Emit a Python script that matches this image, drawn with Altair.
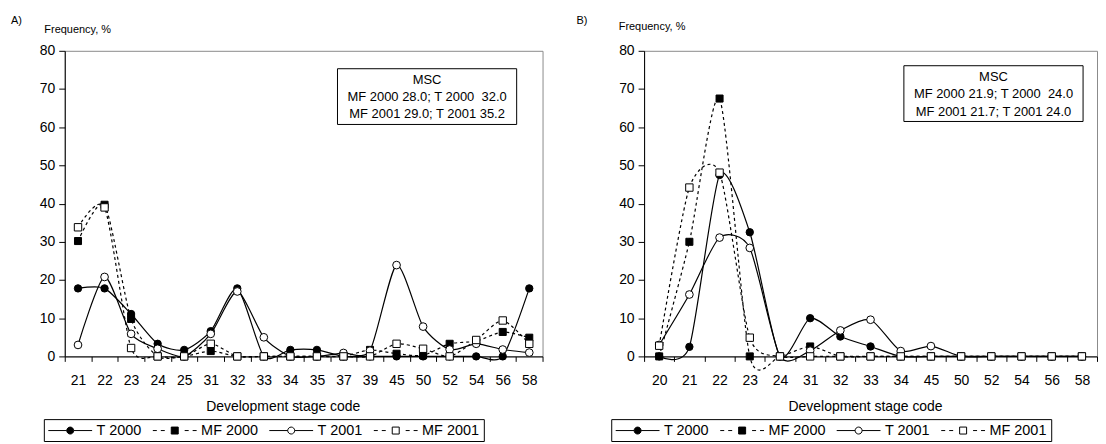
import altair as alt
import pandas as pd

series_names = ["T 2000", "MF 2000", "T 2001", "MF 2001"]

# Panel A
a_codes = ["21", "22", "23", "24", "25", "31", "32", "33", "34", "35", "37", "39", "45", "50", "52", "54", "56", "58"]
a_t2000 = [17.8, 17.8, 11.1, 3.3, 1.7, 6.6, 17.8, 0.0, 1.7, 1.7, 0.0, 0.0, 0.0, 0.0, 0.0, 0.0, 0.0, 17.8]
a_mf2000 = [30.2, 39.7, 9.8, 0.0, 0.0, 1.4, 0.0, 0.0, 0.0, 0.0, 0.0, 1.7, 0.7, 0.3, 3.3, 4.0, 6.4, 4.9]
a_t2001 = [3.0, 20.8, 5.9, 2.0, 0.0, 5.9, 17.0, 5.0, 0.0, 0.0, 0.9, 1.5, 23.9, 7.8, 1.8, 3.3, 1.8, 1.0]
a_mf2001 = [33.8, 39.0, 2.2, 0.0, 0.0, 3.3, 0.0, 0.0, 0.0, 0.0, 0.0, 0.0, 3.3, 2.0, 0.0, 4.3, 9.4, 3.3]
a_box = ["MSC", "MF 2000 28.0; T 2000\u00a0 32.0", "MF 2001 29.0; T 2001 35.2"]

# Panel B
b_codes = ["20", "21", "22", "23", "24", "31", "32", "33", "34", "45", "50", "52", "54", "56", "58"]
b_t2000 = [0.0, 2.5, 47.5, 32.5, 0.0, 10.0, 5.2, 2.6, 0.0, 0.0, 0.0, 0.0, 0.0, 0.0, 0.0]
b_mf2000 = [0.0, 30.0, 67.5, 0.0, 0.0, 2.6, 0.0, 0.0, 0.0, 0.0, 0.0, 0.0, 0.0, 0.0, 0.0]
b_t2001 = [3.0, 16.2, 31.1, 28.4, 0.0, 1.5, 6.8, 9.6, 1.4, 2.7, 0.0, 0.0, 0.0, 0.0, 0.0]
b_mf2001 = [2.8, 44.2, 48.1, 4.9, 0.0, 0.0, 0.0, 0.0, 0.0, 0.0, 0.0, 0.0, 0.0, 0.0, 0.0]
b_box = ["MSC", "MF 2000 21.9; T 2000\u00a0 24.0", "MF 2001 21.7; T 2001 24.0"]

FONT = "Liberation Sans"

# Legend glyphs: symbol unit U px; path spans SYM px starting at the symbol's left edge
U = 7.0
SYM = 44.0
L0, L1 = -1.0, -1.0 + SYM / U
C = (L0 + L1) / 2
m = 3.5 / U


def seg(a, b):
    return f"M{a:.3f},0L{b:.3f},0"


circle_path = (seg(L0, C - m) + seg(C + m, L1)
               + f"M{C - m:.3f},0A{m:.3f},{m:.3f},0,1,1,{C + m:.3f},0A{m:.3f},{m:.3f},0,1,1,{C - m:.3f},0Z")
dash_len, gap_len = 4.0 / U, 4.0 / U
square_dash_path = (
    seg(L0, L0 + dash_len) + seg(L0 + dash_len + gap_len, L0 + 2 * dash_len + gap_len)
    + seg(L1 - 2 * dash_len - gap_len, L1 - dash_len - gap_len) + seg(L1 - dash_len, L1)
    + f"M{C - m:.3f},{-m:.3f}L{C + m:.3f},{-m:.3f}L{C + m:.3f},{m:.3f}L{C - m:.3f},{m:.3f}Z"
)
legend_paths = [circle_path, square_dash_path, circle_path, square_dash_path]
legend_fills = ["black", "black", "white", "white"]
legend_strokes = ["black", "black", "black", "black"]

styles = {
    "T 2000": dict(shape="circle", fill="black", dash=None, size=55),
    "MF 2000": dict(shape="square", fill="black", dash=[3, 3], size=50),
    "T 2001": dict(shape="circle", fill="white", dash=None, size=60),
    "MF 2001": dict(shape="square", fill="white", dash=[3, 3], size=55),
}


def panel(codes, vals, letter, box_lines, width, ytitle_xy, letter_x, box, legend_x, xtitle_x):
    rows = []
    for name, v in zip(series_names, vals):
        for c, val in zip(codes, v):
            rows.append({"code": c, "value": val, "series": name})
    df = pd.DataFrame(rows)

    x = alt.X(
        "code:N",
        sort=codes,
        bandPosition=0.5,
        scale=alt.Scale(type="band", domain=codes, paddingInner=0, paddingOuter=0),
        axis=alt.Axis(
            tickBand="extent", labelAngle=0, tickSize=5, labelPadding=12,
            labelFontSize=14, labelOverlap=False,
            title="Development stage code", titleFontSize=14, titleFontWeight="normal",
            titleX=xtitle_x, titleY=50, titleBaseline="middle", titleAlign="center",
        ),
    )
    y = alt.Y(
        "value:Q",
        scale=alt.Scale(domain=[0, 80], nice=False),
        axis=alt.Axis(
            values=list(range(0, 90, 10)), tickSize=6, labelPadding=4, labelFontSize=14,
            title="Frequency, %", titleAngle=0, titleX=ytitle_xy[0], titleY=ytitle_xy[1],
            titleAlign="left", titleBaseline="middle", titleFontSize=11,
            titleFontWeight="normal",
        ),
    )

    base = alt.Chart(df)
    layers = []
    for name in series_names:
        st = styles[name]
        kw = dict(interpolate="cardinal", tension=0.3, color="black", strokeWidth=1.2)
        if st["dash"]:
            kw["strokeDash"] = st["dash"]
        layers.append(base.transform_filter(alt.datum.series == name).mark_line(**kw).encode(x=x, y=y))
    for name in series_names:
        st = styles[name]
        layers.append(
            base.transform_filter(alt.datum.series == name)
            .mark_point(shape=st["shape"], fill=st["fill"], stroke="black", strokeWidth=1,
                        size=st["size"], opacity=1, filled=True)
            .encode(x=x, y=y)
        )

    leg = dict(
        orient="none", legendX=legend_x, legendY=370, direction="horizontal", columns=4,
        title=None, strokeColor="black", fillColor="white", padding=4, cornerRadius=0,
        symbolSize=U * U * 4, symbolStrokeWidth=1, symbolStrokeColor="black", symbolOpacity=1,
        labelFont=FONT, labelFontSize=14.5, labelColor="black", columnPadding=8,
        labelOffset=int(SYM - 2 * U + 4),
    )
    layers.append(
        base.mark_point(opacity=0, filled=False, strokeWidth=1).encode(
            x=x, y=y,
            shape=alt.Shape("series:N", sort=series_names,
                            scale=alt.Scale(domain=series_names, range=legend_paths),
                            legend=alt.Legend(**leg)),
            fill=alt.Fill("series:N", sort=series_names,
                          scale=alt.Scale(domain=series_names, range=legend_fills),
                          legend=alt.Legend(**leg)),
            stroke=alt.Stroke("series:N", sort=series_names,
                              scale=alt.Scale(domain=series_names, range=legend_strokes),
                              legend=alt.Legend(**leg)),
        )
    )

    one = pd.DataFrame({"k": [0]})
    bx0, bx1, by0, by1 = box
    layers.append(
        alt.Chart(one).mark_rect(fill="white", stroke="black", strokeWidth=1).encode(
            x=alt.value(bx0), x2=alt.value(bx1), y=alt.value(by0), y2=alt.value(by1)
        )
    )
    cx = (bx0 + bx1) / 2
    for i, line in enumerate(box_lines):
        layers.append(
            alt.Chart(one).mark_text(fontSize=13, color="black", baseline="middle", align="center").encode(
                x=alt.value(cx), y=alt.value(by0 + 11 + 17.5 * i), text=alt.value(line)
            )
        )
    layers.append(
        alt.Chart(one).mark_text(fontSize=11, color="black", align="left", baseline="middle").encode(
            x=alt.value(letter_x), y=alt.value(-30), text=alt.value(letter)
        )
    )
    return alt.layer(*layers).properties(width=width, height=307)


A = panel(a_codes, [a_t2000, a_mf2000, a_t2001, a_mf2001], "A)", a_box, 480,
          (-21, -21), -54, (274, 454, 18, 74), -21, 219)
B = panel(b_codes, [b_t2000, b_mf2000, b_t2001, b_mf2001], "B)", b_box, 455,
          (-26, -24), -68, (261, 441, 15, 71), -33, 222)

chart = (
    alt.hconcat(A, B, spacing=31)
    .resolve_scale(x="independent", y="independent", shape="independent", fill="independent",
                   stroke="independent")
    .resolve_legend(shape="independent", fill="independent", stroke="independent")
    .properties(padding={"left": 2, "top": 5, "right": 0, "bottom": 0})
    .configure(font=FONT)
    .configure_view(stroke="#8a8a8a", strokeWidth=1)
    .configure_axis(domainColor="black", tickColor="black", labelColor="black",
                    titleColor="black", grid=False, labelFont=FONT, titleFont=FONT)
)

chart.save("out.html", embed_options={"renderer": "svg", "actions": False})
